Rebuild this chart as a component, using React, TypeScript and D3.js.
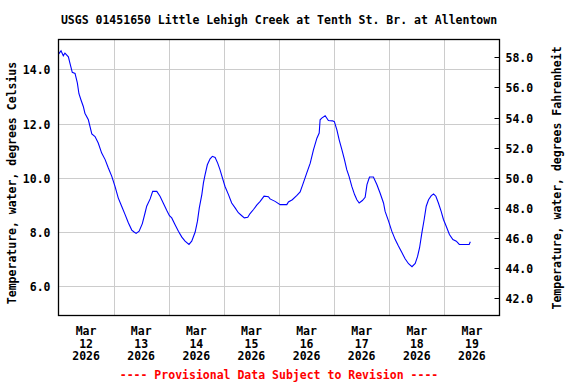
import React, { useEffect, useRef } from "react";
import * as d3 from "d3";

const TITLE = "USGS 01451650 Little Lehigh Creek at Tenth St. Br. at Allentown";
const LEFT_LABEL = "Temperature, water, degrees Celsius";
const RIGHT_LABEL = "Temperature, water, degrees Fahrenheit";
const FOOTER = "---- Provisional Data Subject to Revision ----";

// hours since Mar 12 2026 00:00
const hours = [
  0, 1.1, 2.1, 2.8, 4.3, 5.0, 6.0, 7.2, 8.2, 8.9, 9.8, 10.8, 11.5, 13.0, 13.7, 14.5, 15.9, 17.3, 18.8, 20.3,
  21.7, 23.2, 24.6, 26.0, 27.5, 29.0, 30.4, 31.9, 32.9, 33.8, 35.1, 36.5, 37.7, 38.4, 39.9, 41.0, 42.8, 44.2,
  45.7, 47.1, 48.3, 49.3, 50.7, 52.2, 53.7, 55.1, 56.8, 58.0, 59.5, 60.5, 61.3, 62.4, 63.1, 63.8, 64.8, 66.0,
  67.0, 68.2, 69.3, 70.3, 71.4, 72.5, 74.0, 75.4, 76.9, 78.3, 79.8, 80.9, 82.4, 83.4, 84.9, 86.3, 87.8, 89.5,
  91.4, 92.1, 94.3, 96.5, 99.4, 100.1, 101.8, 103.8, 105.2, 106.6, 108.1, 109.6, 111.0, 112.5, 113.5, 113.9,
  114.6, 116.1, 117.5, 119.3, 120.1, 121.2, 122.2, 123.4, 124.5, 125.5, 126.5, 127.7, 128.9, 129.9, 130.9,
  132.3, 133.5, 134.3, 135.4, 137.1, 138.6, 140.0, 141.5, 142.2, 143.7, 145.1, 146.6, 148.0, 149.5, 150.9,
  152.4, 153.9, 155.3, 156.3, 157.2, 158.2, 159.2, 160.1, 161.1, 162.3, 163.3, 164.3, 165.4, 166.6, 167.6,
  168.8, 170.2, 171.7, 173.2, 174.5, 178.8, 179.3,
];
const tempC = [
  14.56, 14.68, 14.5, 14.6, 14.46, 14.22, 13.89, 13.85, 13.5, 13.1, 12.87, 12.63, 12.38, 12.14, 11.9, 11.62,
  11.52, 11.28, 10.91, 10.67, 10.36, 10.05, 9.68, 9.26, 8.95, 8.64, 8.34, 8.07, 8.0, 7.95, 8.03, 8.31, 8.71,
  8.95, 9.22, 9.5, 9.5, 9.32, 9.05, 8.8, 8.6, 8.52, 8.28, 8.03, 7.81, 7.66, 7.54, 7.66, 8.0, 8.4, 8.89, 9.38,
  9.81, 10.11, 10.48, 10.7, 10.79, 10.75, 10.54, 10.3, 9.99, 9.68, 9.38, 9.07, 8.89, 8.71, 8.6, 8.52, 8.54,
  8.68, 8.83, 8.99, 9.13, 9.32, 9.3, 9.22, 9.13, 9.01, 9.01, 9.11, 9.19, 9.35, 9.48, 9.81, 10.18, 10.54,
  11.03, 11.46, 11.65, 12.14, 12.2, 12.29, 12.11, 12.1, 12.07, 11.77, 11.4, 11.03, 10.67, 10.3, 10.05, 9.68,
  9.38, 9.19, 9.07, 9.16, 9.28, 9.75, 10.03, 10.03, 9.75, 9.44, 9.07, 8.76, 8.4, 8.03, 7.72, 7.48, 7.24,
  7.01, 6.83, 6.72, 6.84, 7.09, 7.42, 7.97, 8.46, 8.95, 9.19, 9.34, 9.4, 9.32, 9.07, 8.76, 8.46, 8.21, 7.91,
  7.72, 7.66, 7.54, 7.54, 7.64,
];

const cTicks = [6, 8, 10, 12, 14];
const fTicks = [42, 44, 46, 48, 50, 52, 54, 56, 58];
const dayLabels = ["12", "13", "14", "15", "16", "17", "18", "19"];
const monthLabel = "Mar";
const yearLabel = "2026";

const FONT = "'DejaVu Sans Mono', 'Liberation Mono', monospace";

export default function App() {
  const ref = useRef<SVGSVGElement>(null);

  useEffect(() => {
    const svg = d3.select(ref.current);
    svg.selectAll("*").remove();

    const L = 58.5, R = 499.5, T = 39.5, B = 315.5;
    const start = new Date(2026, 2, 12, 0, 0);
    const end = new Date(2026, 2, 20, 0, 0);
    const x = d3.scaleTime().domain([start, end]).range([L, R]);
    const cDom: [number, number] = [4.92, 15.1];
    const y = d3.scaleLinear().domain(cDom).range([B, T]);
    const yF = d3.scaleLinear().domain([cDom[0] * 1.8 + 32, cDom[1] * 1.8 + 32]).range([B, T]);

    const data = hours.map((h, i) => ({ t: new Date(start.getTime() + h * 3600e3), v: tempC[i] }));

    const grid = svg.append("g").attr("stroke", "#cccccc").attr("stroke-width", 1);
    cTicks.forEach((c) => {
      const yy = Math.round(y(c)) + 0.5;
      grid.append("line").attr("x1", L).attr("x2", R).attr("y1", yy).attr("y2", yy);
    });
    const days = d3.timeDay.range(new Date(2026, 2, 13), end);
    days.forEach((d) => {
      const xx = Math.round(x(d)) + 0.5;
      grid.append("line").attr("x1", xx).attr("x2", xx).attr("y1", T).attr("y2", B);
    });

    // right ticks inside
    fTicks.forEach((f) => {
      const yy = Math.round(yF(f)) + 0.5;
      svg.append("line").attr("x1", R - 5).attr("x2", R).attr("y1", yy).attr("y2", yy)
        .attr("stroke", "#000").attr("stroke-width", 1);
      svg.append("text").attr("x", R + 6).attr("y", yy + 4).text(f.toFixed(1))
        .attr("font-family", FONT).attr("font-weight", "bold").attr("font-size", 11.5).attr("fill", "#000");
    });

    cTicks.forEach((c) => {
      const yy = Math.round(y(c)) + 0.5;
      svg.append("text").attr("x", 50.5).attr("y", yy + 4).attr("text-anchor", "end").text(c.toFixed(1))
        .attr("font-family", FONT).attr("font-weight", "bold").attr("font-size", 11.5).attr("fill", "#000");
    });

    const line = d3.line<{ t: Date; v: number }>().x((d) => x(d.t)).y((d) => y(d.v));
    svg.append("path").datum(data).attr("d", line).attr("fill", "none")
      .attr("stroke", "#0000ff").attr("stroke-width", 1.1);

    svg.append("rect").attr("x", L).attr("y", T).attr("width", R - L).attr("height", B - T)
      .attr("fill", "none").attr("stroke", "#000").attr("stroke-width", 1.3);

    dayLabels.forEach((lab, i) => {
      const xx = x(new Date(2026, 2, 12 + i, 12));
      const g = svg.append("g").attr("font-family", FONT).attr("font-weight", "bold")
        .attr("font-size", 11.5).attr("text-anchor", "middle").attr("fill", "#000");
      g.append("text").attr("x", xx).attr("y", 334.5).text(monthLabel);
      g.append("text").attr("x", xx).attr("y", 347.5).text(lab);
      g.append("text").attr("x", xx).attr("y", 360).text(yearLabel);
    });

    svg.append("text").attr("x", 279).attr("y", 24).attr("text-anchor", "middle").text(TITLE)
      .attr("font-family", FONT).attr("font-weight", "bold").attr("font-size", 11.5).attr("fill", "#000");

    svg.append("text").attr("transform", "translate(16,183) rotate(-90)").attr("text-anchor", "middle")
      .text(LEFT_LABEL).attr("font-family", FONT).attr("font-weight", "bold").attr("font-size", 11.5).attr("fill", "#000");
    svg.append("text").attr("transform", "translate(561,178) rotate(-90)").attr("text-anchor", "middle")
      .text(RIGHT_LABEL).attr("font-family", FONT).attr("font-weight", "bold").attr("font-size", 11.5).attr("fill", "#000");

    svg.append("text").attr("x", 279).attr("y", 379).attr("text-anchor", "middle").text(FOOTER)
      .attr("font-family", FONT).attr("font-weight", "bold").attr("font-size", 11.5).attr("fill", "#ff0000");
  }, []);

  return (
    <svg ref={ref} width={576} height={384}
      style={{ position: "absolute", left: 0, top: 0, background: "#fff" }} />
  );
}
